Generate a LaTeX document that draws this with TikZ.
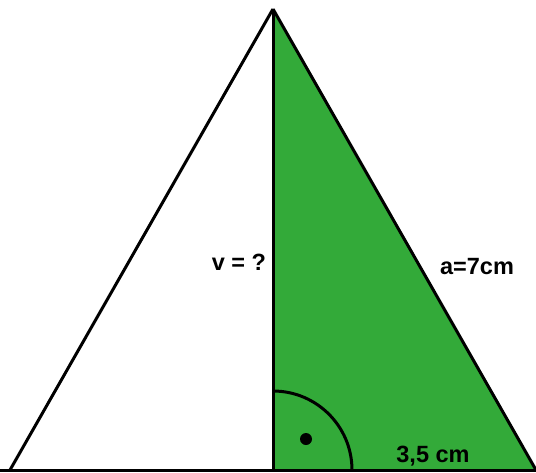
\documentclass[tikz,border=0pt]{standalone}
\usepackage{fontspec}
\setmainfont{Liberation Sans}
\definecolor{tgreen}{RGB}{51,170,57}
\begin{document}
\begin{tikzpicture}[x=1pt,y=-1pt,
  edge/.style={line width=3pt,line join=miter},
  lbl/.style={font=\fontsize{23.5}{28}\selectfont\bfseries,inner sep=0pt}]
\useasboundingbox (0,0) rectangle (536,472);
\clip (0,0) rectangle (536,472);
\coordinate (A) at (273,9);
\coordinate (L) at (10,470);
\coordinate (R) at (536,470);
\coordinate (F) at (273,470);
\fill[tgreen] (A) -- (F) -- (R) -- cycle;
\draw[edge] (A) -- (L);
\draw[edge] (A) -- (R);
\draw[edge] (A) -- (F);
\draw[edge] (0,470) -- (536,470);
\draw[edge] ([xshift=79pt]F) arc[start angle=0,end angle=90,radius=79pt];
\fill (306,439) circle[radius=6pt];
\node[lbl] (v) at (239,262) {v = ?};
\node[lbl] (a) at (477,267) {a=7cm};
\node[lbl] (b) at (433,456) {3,5 cm};
\end{tikzpicture}
\end{document}
